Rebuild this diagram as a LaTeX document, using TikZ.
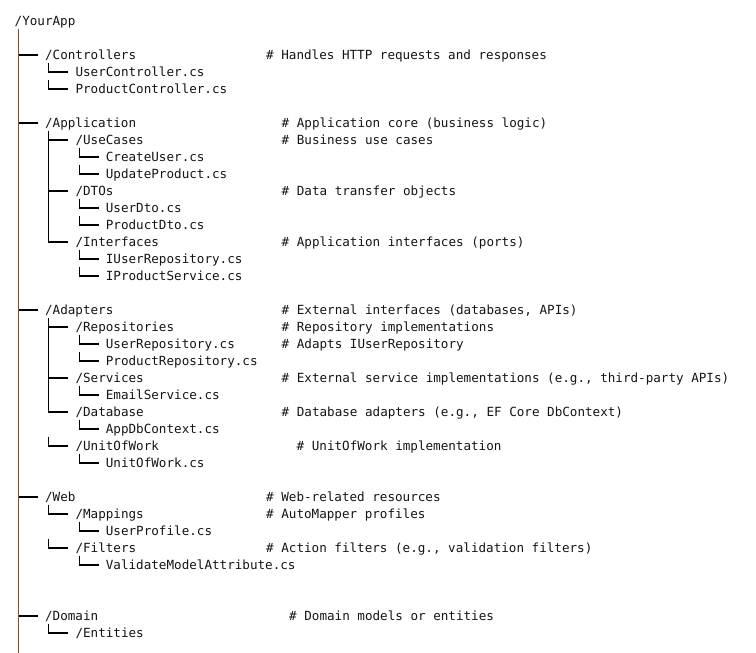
\documentclass[tikz,border=0pt]{standalone}
\usepackage{fontspec}
\setmonofont{DejaVu Sans Mono}
\usepackage{tikz}

\definecolor{ink}{RGB}{20,20,20}
\definecolor{trunkcol}{RGB}{135,78,32}

\begin{document}
\begin{tikzpicture}[x=1pt, y=-1pt,
		every node/.style={font=\ttfamily\fontsize{12.6}{15}\selectfont, text=ink, anchor=west,
			inner sep=0pt, text height=12pt, text depth=2.8pt},
		tree/.style={draw=black, line width=1.1pt},
		trunk/.style={draw=trunkcol, line width=1.4pt}]
		\useasboundingbox (0,0) rectangle (756,653);
		
		\node (app) at (14.5,21) {/YourApp};
		
		\node (ctl) at (44.9,55) {/Controllers};
		\node (ucs) at (75.3,72) {UserController.cs};
		\node (pcs) at (75.3,89) {ProductController.cs};
		
		\node (appl) at (44.9,123) {/Application};
		\node (uc) at (75.3,140) {/UseCases};
		\node (cu) at (105.7,157) {CreateUser.cs};
		\node (up) at (105.7,174) {UpdateProduct.cs};
		\node (dto) at (75.3,191) {/DTOs};
		\node (udto) at (105.7,208) {UserDto.cs};
		\node (pdto) at (105.7,225) {ProductDto.cs};
		\node (ifc) at (75.3,242) {/Interfaces};
		\node (iur) at (105.7,259) {IUserRepository.cs};
		\node (ips) at (105.7,276) {IProductService.cs};
		
		\node (adp) at (44.9,310) {/Adapters};
		\node (repo) at (75.3,327) {/Repositories};
		\node (urepo) at (105.7,344) {UserRepository.cs};
		\node (prepo) at (105.7,361) {ProductRepository.cs};
		\node (svc) at (75.3,378) {/Services};
		\node (email) at (105.7,395) {EmailService.cs};
		\node (db) at (75.3,412) {/Database};
		\node (ctx) at (105.7,429) {AppDbContext.cs};
		\node (uow) at (75.3,446) {/UnitOfWork};
		\node (uowcs) at (105.7,463) {UnitOfWork.cs};
		
		\node (web) at (44.9,497) {/Web};
		\node (map) at (75.3,514) {/Mappings};
		\node (prof) at (105.7,531) {UserProfile.cs};
		\node (flt) at (75.3,548) {/Filters};
		\node (vma) at (105.7,565) {ValidateModelAttribute.cs};
		
		\node (dom) at (44.9,616) {/Domain};
		\node (ent) at (75.3,633) {/Entities};
		
		% comments
		\node (ctlc) at (266,55) {\# Handles HTTP requests and responses};
		\node (applc) at (281.5,123) {\# Application core (business logic)};
		\node (ucc) at (281.5,140) {\# Business use cases};
		\node (dtoc) at (281.5,191) {\# Data transfer objects};
		\node (ifcc) at (281.5,242) {\# Application interfaces (ports)};
		\node (adpc) at (281.5,310) {\# External interfaces (databases, APIs)};
		\node (repoc) at (281.5,327) {\# Repository implementations};
		\node (urepoc) at (281.5,344) {\# Adapts IUserRepository};
		\node (svcc) at (281.5,378) {\# External service implementations (e.g., third-party APIs)};
		\node (dbc) at (281.5,412) {\# Database adapters (e.g., EF Core DbContext)};
		\node (uowc) at (296.5,446) {\# UnitOfWork implementation};
		\node (webc) at (266,497) {\# Web-related resources};
		\node (mapc) at (266,514) {\# AutoMapper profiles};
		\node (fltc) at (266,548) {\# Action filters (e.g., validation filters)};
		\node (domc) at (289,616) {\# Domain models or entities};
		
		% branches off the trunk
		\coordinate (trunkend) at (18.5,653);
		\draw[tree] (trunkend |- ctl.west) -- ([xshift=-7]ctl.west);
		\draw[tree] (trunkend |- appl.west) -- ([xshift=-7]appl.west);
		\draw[tree] (trunkend |- adp.west) -- ([xshift=-7]adp.west);
		\draw[tree] (trunkend |- web.west) -- ([xshift=-7]web.west);
		\draw[tree] (trunkend |- dom.west) -- ([xshift=-7]dom.west);
		
		% Controllers
		\draw[tree] ([xshift=4]ctl.south west) |- ([xshift=-7]ucs.west);
		\draw[tree] ([xshift=4]ctl.west |- ucs.south) |- ([xshift=-7]pcs.west);
		
		% Application
		\draw[tree] ([xshift=4]appl.south west) |- ([xshift=-7]ifc.west);
		\draw[tree] ([xshift=4]appl.west |- uc.west) -- ([xshift=-7]uc.west);
		\draw[tree] ([xshift=4]appl.west |- dto.west) -- ([xshift=-7]dto.west);
		\draw[tree] ([xshift=4]uc.south west) |- ([xshift=-7]cu.west);
		\draw[tree] ([xshift=4]uc.west |- cu.south) |- ([xshift=-7]up.west);
		\draw[tree] ([xshift=4]dto.south west) |- ([xshift=-7]udto.west);
		\draw[tree] ([xshift=4]dto.west |- udto.south) |- ([xshift=-7]pdto.west);
		\draw[tree] ([xshift=4]ifc.south west) |- ([xshift=-7]iur.west);
		\draw[tree] ([xshift=4]ifc.west |- iur.south) |- ([xshift=-7]ips.west);
		
		% Adapters
		\draw[tree] ([xshift=4]adp.south west) |- ([xshift=-7]db.west);
		\draw[tree] ([xshift=4]adp.west |- repo.west) -- ([xshift=-7]repo.west);
		\draw[tree] ([xshift=4]adp.west |- svc.west) -- ([xshift=-7]svc.west);
		\draw[tree] ([xshift=4]adp.west |- ctx.south) |- ([xshift=-7]uow.west);
		\draw[tree] ([xshift=4]repo.south west) |- ([xshift=-7]urepo.west);
		\draw[tree] ([xshift=4]repo.west |- urepo.south) |- ([xshift=-7]prepo.west);
		\draw[tree] ([xshift=4]svc.south west) |- ([xshift=-7]email.west);
		\draw[tree] ([xshift=4]db.south west) |- ([xshift=-7]ctx.west);
		\draw[tree] ([xshift=4]uow.south west) |- ([xshift=-7]uowcs.west);
		
		% Web
		\draw[tree] ([xshift=4]web.south west) |- ([xshift=-7]map.west);
		\draw[tree] ([xshift=4]web.west |- prof.south) |- ([xshift=-7]flt.west);
		\draw[tree] ([xshift=4]map.south west) |- ([xshift=-7]prof.west);
		\draw[tree] ([xshift=4]flt.south west) |- ([xshift=-7]vma.west);
		
		% Domain
		\draw[tree] ([xshift=4]dom.south west) |- ([xshift=-7]ent.west);
		
		% trunk
		\draw[trunk] (app.south west -| trunkend) -- (trunkend);
		
	\end{tikzpicture}
\end{document}
